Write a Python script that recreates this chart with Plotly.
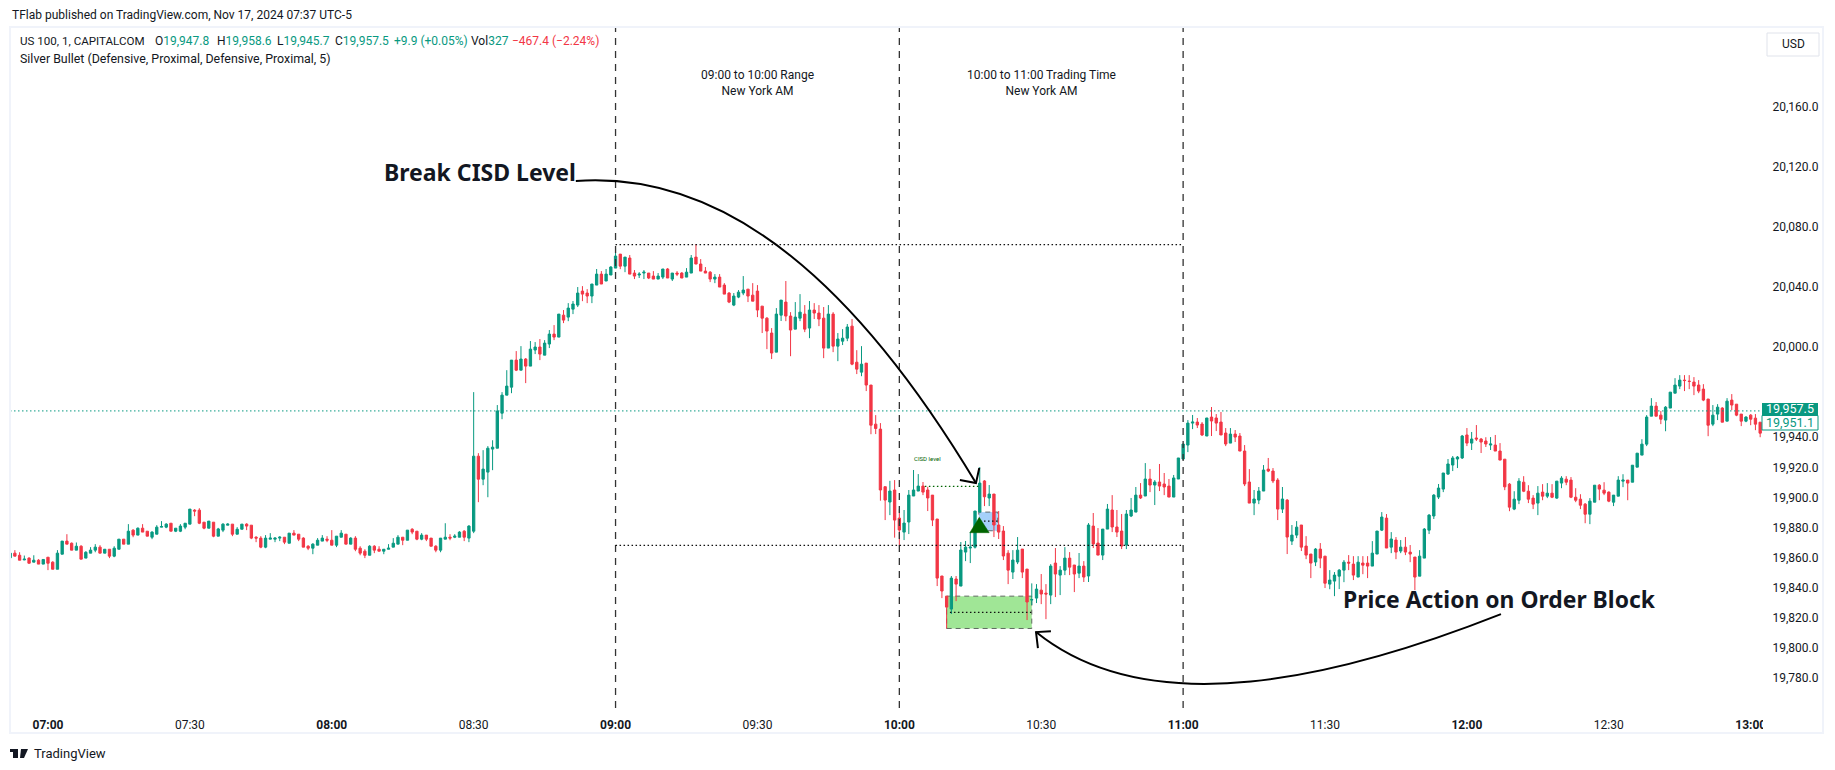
import plotly.graph_objects as go

opens = [19859.8,19862.9,19861.5,19858.4,19859.6,19856.9,19858.2,19855.6,19860.2,19856.9,
19852.2,19862.2,19870.9,19869.5,19864.9,19867.5,19859.6,19862.9,19864.9,19866.9,
19862.9,19865.5,19860.9,19865.5,19872.2,19868.9,19878.2,19874.9,19879.5,19877.5,
19873.5,19875.5,19880.2,19880.2,19882.8,19877.5,19877.5,19880.2,19882.2,19891.5,
19891.5,19883.5,19879.5,19883.5,19874.2,19878.2,19881.5,19882.2,19875.5,19878.8,
19882.2,19881.5,19873.5,19872.9,19866.9,19872.2,19872.2,19872.9,19873.5,19869.5,
19876.2,19875.5,19872.9,19867.5,19866.2,19868.2,19870.9,19872.2,19871.5,19868.2,
19873.5,19875.5,19868.9,19872.9,19866.2,19864.2,19861.5,19867.5,19865.5,19864.2,
19865.5,19866.9,19868.9,19873.5,19871.5,19878.8,19877.5,19872.2,19874.9,19872.9,
19867.5,19864.9,19872.2,19873.5,19873.5,19873.5,19877.5,19872.9,19877.5,19927.4,
19912.1,19916.8,19932.1,19932.7,19956,19968,19973.3,19991.3,19984.6,19992,
19987.3,19998,20000,19994.6,20002,20008.6,20006.6,20021.2,20019.9,20025.2,
20027.9,20037.2,20035.9,20033.9,20041.2,20048.5,20043.9,20047.9,20052.5,20061.8,
20053.8,20059.2,20049.2,20047.9,20049.2,20049.2,20047.2,20045.2,20046.5,20051.9,
20045.2,20049.2,20049.2,20046.5,20049.2,20059.8,20055.2,20050.5,20049.8,20045.2,
20046.5,20041.2,20035.9,20027.9,20033.2,20035.9,20038.5,20034.5,20037.2,20027.2,
20019.2,20009.3,19996.6,20021.2,20029.9,20020.6,20011.9,20019.2,20021.9,20012.6,
20024.6,20022.6,20019.2,19999.3,20021.9,20000.6,20003.9,20005.9,20013.9,19989.9,
19983.3,19989.3,19974.7,19948.7,19945.4,19907.1,19896.9,19904.9,19886.2,19876.9,
19883.6,19900.9,19904.2,19907.5,19904.9,19901.5,19885.6,19847.7,19834.3,19825.7,
19845.7,19841,19863.6,19866.3,19866.9,19890.2,19910.9,19899.6,19902.2,19881.6,
19877.6,19862.9,19850.3,19857,19865.6,19852.3,19831.7,19833,19838.3,19836.3,
19835,19856.3,19848.3,19851.6,19859.6,19855,19849.6,19854.3,19847.7,19880.9,
19869.6,19861.6,19878.9,19891.6,19880.3,19877.6,19868.3,19887.6,19890.2,19901.5,
19900.9,19912.2,19908.2,19910.2,19908.9,19907.5,19900.2,19912.2,19925.5,19934.8,
19949.4,19950.1,19948.8,19940.8,19953.4,19952.8,19950.1,19942.8,19936.1,19942.1,
19940.8,19930.8,19910.2,19896.2,19898.2,19904.2,19918.8,19917.5,19911.5,19892.2,
19898.2,19870.9,19874.9,19881.6,19867.6,19862.3,19857,19865.6,19860.9,19842.3,
19844.3,19847.6,19851.6,19856.9,19855.6,19847,19856.3,19856.3,19854.3,19862.3,
19878.2,19886.2,19866.9,19871.6,19864.3,19866.9,19863.6,19860.3,19847.6,19859.6,
19878.2,19887.6,19900.2,19905.5,19915.5,19921.5,19925.5,19926.2,19941.5,19936.1,
19939.5,19938.8,19937.5,19934.8,19934.8,19930.8,19925.4,19908.8,19892.2,19898.1,
19910.1,19904.1,19899.5,19896.2,19903.5,19900.8,19902.8,19899.5,19909.5,19912.1,
19911.5,19900.1,19898.8,19895.5,19888.8,19896.8,19908.1,19904.8,19903.5,19896.8,
19900.8,19910.8,19911.5,19910.1,19920.1,19928.1,19935.4,19954,19960.7,19954.7,
19951.4,19959.4,19969.3,19974,19978,19977.3,19976.7,19974.7,19972,19965.4,
19948.7,19955.4,19959.4,19950.7,19964.7,19962,19955.4,19950.7,19954.7,19952.7,19950]

highs = [19862.9,19864.9,19863.5,19861.3,19860.2,19861.5,19858.9,19858.7,19860.2,19857.5,
19864.9,19870.9,19875.5,19870,19870,19868.2,19864.2,19866.9,19868.9,19868.2,
19865.5,19865.5,19867.5,19872.2,19872.2,19882.2,19878.8,19880,19882.2,19877.5,
19877.5,19881.5,19884.2,19882.8,19882.8,19879.5,19882.2,19882.8,19892.2,19892.2,
19892.8,19883.5,19884.2,19883.5,19879.7,19882.8,19882.8,19882.2,19880.2,19882.2,
19882.8,19881.5,19874.2,19874.2,19874.9,19876.2,19873.5,19874.2,19873.5,19876.2,
19878.2,19875.5,19873.5,19868.2,19869.5,19872.9,19874.9,19874.2,19878.2,19874.2,
19878.2,19875.5,19873.5,19874.2,19867.5,19865.5,19868.2,19868.2,19867.5,19865.5,
19868.9,19872.9,19874.9,19873.5,19878.2,19879.5,19877.5,19876.2,19874.9,19872.9,
19868.2,19872.9,19882.8,19875.5,19875.5,19877.5,19878.2,19881.5,19970,19929.4,
19931.4,19934.1,19938,19961.4,19970,19984.6,19991.3,19997.3,20000.6,19992.7,
20004,20003.3,20005.3,20004.6,20011.3,20014.6,20021.9,20024.6,20029.2,20030.6,
20039.9,20040.5,20038.5,20041.9,20051.9,20050.5,20051.9,20053.8,20065.8,20061.8,
20059.8,20061.2,20051.2,20049.8,20051.2,20049.2,20050.5,20049.2,20051.9,20052.5,
20049.2,20050.5,20049.8,20052.5,20061.2,20068.5,20058.5,20053.2,20050.5,20048.5,
20048.5,20042.5,20036.5,20035.9,20037.9,20047.2,20038.5,20042.5,20041.2,20027.2,
20019.9,20012.6,20025.9,20031.2,20043.9,20023.2,20029.9,20035.2,20027.9,20030.6,
20029.2,20027.9,20026.6,20027.9,20023.2,20009.3,20011.9,20015.3,20018.6,19997.9,
20000.6,19989.3,19974.7,19954.7,19949.4,19907.1,19911,19911.5,19892.2,19891.6,
19904.9,19918.2,19915.5,19910.2,19907,19901.5,19885.6,19847.7,19834.3,19847.7,
19847.7,19870.3,19871,19876.9,19891,19920.2,19911.5,19908.2,19902.2,19890.9,
19880.9,19864.9,19864.9,19873.6,19865.6,19852.3,19842.8,19842.3,19849,19842.3,
19855.6,19866.3,19854.3,19866.9,19863.6,19855,19863,19857.6,19882.9,19889.6,
19879.6,19878.9,19895.6,19901.5,19891.6,19888.9,19891.6,19899.6,19906.9,19909.5,
19922.8,19918.9,19911.5,19922.2,19916.2,19912.2,19914.9,19926.2,19935.5,19951.4,
19954.8,19952.8,19950.1,19952.8,19960.1,19955.4,19956.8,19946.1,19946.1,19944.8,
19942.8,19934.8,19918.8,19904.9,19906.9,19921.5,19926.2,19919.5,19912.8,19906.9,
19898.9,19881.6,19884.2,19881.6,19874.2,19862.3,19866.3,19869.6,19860.9,19851.6,
19850.3,19852.3,19858.3,19861.6,19860.9,19860.9,19860.9,19860.9,19870.9,19877.6,
19890.2,19888.9,19876.9,19873.6,19871.6,19873.6,19868.3,19860.3,19864.9,19879.6,
19888.9,19902.2,19908.9,19916.2,19925.5,19927.5,19927.5,19941.5,19946.1,19943.5,
19948.1,19939.5,19940,19940.1,19941.5,19936.1,19925.4,19909.5,19904.1,19912.8,
19914.1,19908.1,19901.5,19907.5,19908.8,19909.5,19908.8,19910.8,19914.1,19914.1,
19913.5,19906.1,19902.1,19896.2,19899.5,19908.1,19908.8,19910.1,19904,19901.5,
19914.1,19915.4,19911.5,19921.4,19929.4,19938.7,19954.7,19966,19963.4,19957.4,
19960.7,19970,19979.3,19981.3,19981.3,19981.3,19980,19978,19975.3,19965.4,
19961.4,19962,19960,19966,19968.7,19962,19955.4,19954,19955.4,19955.4,19950]

lows = [19859.8,19860.9,19858.2,19858.2,19856,19856.9,19855.6,19855.6,19851.6,19852.2,
19852.2,19862.2,19868.9,19864.9,19864.9,19858.9,19859.6,19862.9,19863.5,19862.9,
19862.9,19859.6,19860.2,19865.5,19868.9,19868.9,19873.5,19874.9,19876.9,19874.2,
19872.2,19875.5,19880.2,19879.5,19877.5,19876.9,19876.9,19878.8,19882.2,19887.5,
19882.2,19878.8,19879.5,19873.5,19874.2,19876.9,19881.5,19874.2,19875.5,19878.8,
19878.2,19872.2,19870.2,19866.2,19866.2,19872.2,19870.2,19870.9,19868.9,19869.5,
19874.9,19870.9,19866.9,19864.9,19862.2,19868.2,19870.9,19870.2,19868.2,19866.9,
19873.5,19868.9,19868.9,19864.2,19861.5,19859.6,19861.5,19862.9,19864.2,19862.2,
19865.5,19866.9,19868.9,19868.2,19871.5,19875.5,19871.5,19871.5,19870.9,19867.5,
19863.5,19863.5,19872.2,19871.5,19872.9,19873.5,19870.9,19870.2,19876.2,19896.8,
19908.1,19900.1,19918.1,19932.7,19952,19968,19969.3,19984,19984.6,19976,
19987.3,19995.3,19991.3,19994.6,19999.3,20004.6,20006.6,20015.9,20017.2,20021.9,
20026.6,20030.5,20029.2,20029.2,20041.2,20041.9,20043.9,20047.9,20052.5,20051.8,
20049.8,20048.5,20045.2,20045.9,20045.2,20045.2,20045.2,20045.2,20045.2,20045.9,
20043.9,20047.2,20045.9,20046.5,20049.2,20055.2,20050.5,20049.2,20043.2,20042.5,
20039.9,20035.2,20029.2,20027.2,20032.5,20034.5,20029.9,20030.5,20019.9,20009.3,
19998.6,19992,19996.6,20017.3,20017.2,19993.9,20011.9,20017.2,20009.9,20005.9,
20018.6,20013.9,19992.6,19999.3,19996.6,19990.6,20001.3,20003.9,19987.9,19982,
19980.6,19970.7,19942,19942.1,19897.8,19884.9,19888.2,19873.2,19868.3,19871.6,
19875.6,19900.9,19904.2,19901.5,19890.9,19880.9,19841,19833,19812.8,19822.4,
19831,19841,19857.6,19856.3,19866,19890.2,19894.2,19894.2,19873.6,19872.3,
19858.3,19842.3,19845.7,19855.6,19846.3,19818.4,19828.4,19829.7,19829,19819,
19829,19833.7,19835,19848.3,19848.3,19837,19846.3,19843.7,19843.7,19866.3,
19861.6,19858.3,19878.9,19876.9,19873.6,19865.6,19865.6,19886.9,19890.2,19898.9,
19900.9,19903.5,19894.9,19904.2,19901.5,19900.2,19900.2,19912.2,19925,19930.1,
19945.4,19946.1,19940.8,19940.8,19940.8,19944.1,19941.5,19934.1,19936.1,19936.8,
19930.8,19907.5,19896.2,19888.2,19895.5,19904.2,19916.8,19909.5,19884.9,19889.6,
19862.3,19868.3,19872.9,19864.3,19858.9,19846.3,19854.3,19852.9,19839.7,19838.9,
19834.3,19839,19843.6,19851.6,19845,19847,19848.9,19846.3,19854.3,19862.3,
19877.6,19866.3,19862.9,19858.9,19862.9,19861.6,19856.9,19838.3,19847.6,19859.6,
19875.6,19885.6,19898.9,19903.5,19914.9,19917.5,19919.5,19925.5,19934.1,19931.5,
19937.5,19929.5,19933.5,19931.5,19930.8,19924.8,19904.8,19890.8,19891.5,19895.5,
19903.5,19896.2,19892.2,19888.2,19898.1,19899.5,19899.5,19899,19906.1,19908.1,
19899.5,19896.8,19892.2,19882.8,19882.2,19896.8,19898.1,19901.5,19896.8,19894.2,
19900.8,19906.8,19898.1,19910.1,19920.1,19928.1,19934.1,19954,19954,19948.7,
19944,19959.4,19969.3,19972,19970.7,19972,19968,19969.3,19964,19940.7,
19947.4,19951.4,19950,19950.7,19958,19954,19947.4,19950,19948,19944.7,19940]

closes = [19862.9,19860.9,19858.2,19858.9,19856.2,19858.2,19855.6,19858.7,19856.2,19852.2,
19862.9,19870.9,19868.9,19864.9,19867.5,19858.9,19863.5,19864.9,19866.9,19862.9,
19865.5,19860.9,19866.2,19872.2,19868.9,19877.5,19874.9,19879.5,19876.9,19874.2,
19876.9,19880.2,19880.6,19882.2,19877.5,19879.5,19880.9,19882.8,19892.2,19890.9,
19882.8,19879.5,19884.2,19874.2,19879,19882.2,19882.2,19875.5,19878.8,19882.2,
19880.9,19872.9,19872.9,19866.9,19872.9,19872.9,19872.9,19873.5,19870.2,19876.2,
19874.9,19872.2,19866.9,19866.2,19868.9,19871.5,19872.9,19871.5,19868.2,19874.2,
19876.2,19868.9,19872.9,19865.5,19862.9,19861.5,19867.5,19864.9,19864.2,19865.5,
19866.2,19869.5,19873.5,19871.5,19878.2,19876.9,19872.2,19874.9,19872.2,19867.5,
19864.9,19872.9,19873.5,19872.9,19874.2,19876.9,19873.5,19880.9,19927.4,19912.1,
19918.8,19932.7,19933.4,19957.4,19968,19974,19991.3,19984.6,19992,19987.3,
19998.6,20000,19995.3,20002.6,20008.6,20006.6,20021.9,20017.9,20025.9,20028.6,
20035.9,20035.2,20033.9,20041.9,20048.5,20041.9,20048.5,20053.2,20060.5,20053.8,
20059.8,20048.5,20047.2,20048.5,20049.8,20045.9,20045.2,20047.2,20051.9,20045.9,
20049.2,20048.5,20045.9,20049.8,20059.2,20055.2,20050.5,20049.2,20045.2,20046.5,
20039.9,20035.2,20029.9,20033.9,20036.5,20037.9,20033.9,20030.5,20024.6,20019.2,
20010.6,19996,20021.9,20031.2,20020.6,20011.3,20019.9,20023.2,20011.9,20024.6,
20022.6,20018.6,19999.3,20021.9,20000.6,20005.3,20005.9,20013.3,19988.6,19985.3,
19988.6,19974.7,19948,19945.8,19904.9,19898.2,19904.2,19884.9,19878.3,19882.9,
19901.5,19904.9,19907.5,19903.5,19899.6,19884.9,19846.3,19837.7,19827,19846.3,
19842.3,19865,19866.9,19866.9,19890.9,19909.5,19900.4,19902.2,19881.6,19876.9,
19861,19851.6,19858.3,19864.9,19850.3,19830.4,19832,19839,19835.7,19835.7,
19854.3,19849,19851.6,19859.6,19853.6,19849,19854.3,19847,19881.6,19869,
19861.6,19878.9,19892.2,19880.3,19876.9,19867.6,19888.9,19891.6,19901.5,19899.6,
19912.2,19908.2,19910.2,19907.5,19906.9,19900.2,19912.9,19926.2,19935.5,19949.4,
19950.1,19948.1,19941.5,19952.8,19950.8,19949.4,19941.5,19935.5,19942.1,19940.1,
19930.8,19908.9,19896.2,19898.9,19904.2,19918.2,19917.5,19910.9,19892.2,19898.9,
19873.6,19874.9,19880.2,19866.9,19861.6,19856.3,19865.6,19859.6,19842.9,19845,
19848.3,19851.6,19856.9,19856.3,19848.3,19856.9,19854.9,19854.3,19862.9,19877.6,
19886.9,19866.3,19872.3,19863.6,19866.9,19863.6,19862.3,19847,19860.9,19878.9,
19888.2,19901.5,19906.2,19916.2,19922.2,19926.2,19926.8,19940.8,19936.1,19938.8,
19938.8,19936.8,19935.5,19935.5,19930.8,19924.8,19907,19893.5,19898.8,19910.8,
19904.1,19898.8,19895.5,19902.8,19900.8,19902.8,19900.1,19910.8,19912.8,19910.1,
19900.1,19898.1,19894.8,19888.8,19897.5,19908.1,19905.5,19902.8,19897.5,19901.5,
19911.5,19911.5,19909.5,19921.4,19929.4,19935.4,19953.4,19960.7,19954,19952,
19960,19970,19974.7,19978,19977.7,19977.1,19974,19970.7,19964.7,19948,
19954.7,19960,19950,19964,19961.4,19954.7,19950.7,19953.4,19952,19948.7,19942.7]

assert len(opens) == len(highs) == len(lows) == len(closes)

FIRST_MINUTE = 412  # 06:52, minutes after midnight
minutes = [FIRST_MINUTE + i for i in range(len(opens))]

hour_ticks = [420, 450, 480, 510, 540, 570, 600, 630, 660, 690, 720, 750, 780]
hour_labels = ["<b>07:00</b>", "07:30", "<b>08:00</b>", "08:30", "<b>09:00</b>", "09:30", "<b>10:00</b>",
               "10:30", "<b>11:00</b>", "11:30", "<b>12:00</b>", "12:30", "<b>13:00</b>"]
price_ticks = [19780, 19800, 19820, 19840, 19860, 19880, 19900, 19920, 19940,
               20000, 20040, 20080, 20120, 20160]

session_lines = [540, 600, 660]
range_high = 20068.1
range_low = 19868.1
last_price = 19957.5
cisd_level = 19907.3

GREEN = "#089981"
RED = "#F23645"
INK = "#131722"
FONT = "Roboto"
W, H = 1835, 770
ML, MR, MT, MB = 10, 72, 28, 62
xp = lambda px: (px - ML) / (W - ML - MR)
yp = lambda py: (H - MB - py) / (H - MT - MB)

fig = go.Figure(go.Candlestick(
    x=minutes, open=opens, high=highs, low=lows, close=closes,
    increasing=dict(line=dict(color=GREEN, width=1), fillcolor=GREEN),
    decreasing=dict(line=dict(color=RED, width=1), fillcolor=RED),
    hoverinfo="skip", whiskerwidth=0,
))

shapes = []
# order block and FVG boxes
shapes.append(dict(type="rect", x0=610, x1=628, y0=19812.8, y1=19834.3, layer="below",
                   fillcolor="#A0E696", line=dict(color="#5f6b60", width=1, dash="5px,4px")))
shapes.append(dict(type="rect", x0=616.8, x1=620.8, y0=19877.8, y1=19890.2, layer="below",
                   fillcolor="#A5D0FA", line=dict(color="#5f6b70", width=1, dash="5px,4px")))
for v in session_lines:
    shapes.append(dict(type="line", x0=v, x1=v, yref="paper", y0=0, y1=1,
                       line=dict(color="#333333", width=1.3, dash="7px,6px")))
for level in (range_high, range_low):
    shapes.append(dict(type="line", x0=540, x1=660, y0=level, y1=level,
                       line=dict(color="#111111", width=1.2, dash="1.5px,2.5px")))
shapes.append(dict(type="line", xref="paper", x0=0, x1=1, y0=last_price, y1=last_price,
                   line=dict(color=GREEN, width=1, dash="1.5px,2.5px")))
shapes.append(dict(type="line", x0=605.4, x1=616.7, y0=cisd_level, y1=cisd_level,
                   line=dict(color="#006400", width=1.2, dash="1.5px,2.5px")))
shapes.append(dict(type="line", x0=610.7, x1=627.9, y0=19823.5, y1=19823.5,
                   line=dict(color="#111111", width=1.2, dash="1.5px,2.5px")))
shapes.append(dict(type="line", x0=617.9, x1=620.9, y0=19884.2, y1=19884.2,
                   line=dict(color="#111111", width=1.2, dash="1.5px,2.5px")))
# signal triangle
shapes.append(dict(type="path", path="M 614.9 19876.5 L 616.9 19886.7 L 619 19876.5 Z",
                   fillcolor="#006400", line=dict(color="#006400", width=0.5)))
# curved arrows
shapes.append(dict(type="path", path="M 531.6 20110.4 C 564.2 20117.8 591.7 20037.9 616.2 19909.5",
                   line=dict(color="#000000", width=2)))
shapes.append(dict(type="path", path="M 612.8 19911.5 L 616.2 19909.5 L 616.9 19919.5",
                   line=dict(color="#000000", width=2)))
shapes.append(dict(type="path", path="M 727.2 19822.3 C 693.1 19780 653 19749 628.9 19810.4",
                   line=dict(color="#000000", width=2)))
shapes.append(dict(type="path", path="M 632.05 19811 L 628.9 19810.4 L 629.3 19799.7",
                   line=dict(color="#000000", width=2)))
# page furniture in pixel positions
def px_rect(x0, y0, x1, y1, **kw):
    return dict(type="rect", xref="paper", yref="paper", x0=xp(x0), x1=xp(x1), y0=yp(y0), y1=yp(y1), **kw)
shapes.append(px_rect(10, 27, 1823, 733, line=dict(color="#F0F3FA", width=2), fillcolor="rgba(0,0,0,0)"))
shapes.append(px_rect(1763, 710, 1772, 732, line=dict(width=0), fillcolor="#FFFFFF"))
shapes.append(px_rect(1767, 33, 1819, 56, line=dict(color="#E0E3EB", width=1), fillcolor="#FFFFFF"))
shapes.append(px_rect(1762, 403, 1818, 421, line=dict(width=0), fillcolor=GREEN))
shapes.append(px_rect(1762, 415.5, 1818, 430, line=dict(color=GREEN, width=1), fillcolor="#FFFFFF"))
# logo
shapes.append(px_rect(10, 749, 18, 752, line=dict(width=0), fillcolor=INK))
shapes.append(px_rect(13, 749, 18, 758, line=dict(width=0), fillcolor=INK))
shapes.append(dict(type="path", xref="paper", yref="paper",
                   path=f"M {xp(21)} {yp(749)} L {xp(28)} {yp(749)} L {xp(24)} {yp(758)} L {xp(20)} {yp(758)} Z",
                   fillcolor=INK, line=dict(width=0)))

def g(t):
    return f'<span style="color:{GREEN}">{t}</span>'

def note(text, px, py, size=12, color=INK, xanchor="left", family=FONT, align="left"):
    return dict(text=text, xref="paper", yref="paper", x=xp(px), y=yp(py), showarrow=False,
                xanchor=xanchor, yanchor="middle", align=align, xshift=0,
                font=dict(family=family, size=size, color=color))

annotations = [
    note("TFlab published on TradingView.com, Nov 17, 2024 07:37 UTC-5", 10, 15),
    note("US 100, 1, CAPITALCOM", 18, 41, size=11.6),
    note("O" + g("19,947.8"), 153, 41),
    note("H" + g("19,958.6"), 214.7, 41),
    note("L" + g("19,945.7"), 274.8, 41),
    note("C" + g("19,957.5"), 333, 41),
    note(g("+9.9 (+0.05%)"), 391.5, 41),
    note("Vol" + g("327"), 468.6, 41),
    note("−467.4 (−2.24%)", 510, 41, color=RED),
    note("Silver Bullet (Defensive, Proximal, Defensive, Proximal, 5)", 18, 59, size=12.4),
    note("TradingView", 32, 753, size=13),
    note("USD", 1793, 44, xanchor="center"),
    note("19,957.5", 1790, 408.5, color="#FFFFFF", xanchor="center", size=12.5),
    note("19,951.1", 1790, 423, color=GREEN, xanchor="center", size=12.5),
    dict(text="09:00 to 10:00 Range<br>New York AM", x=570, y=20175.6, showarrow=False,
         font=dict(family=FONT, size=12, color=INK), align="center"),
    dict(text="10:00 to 11:00 Trading Time<br>New York AM", x=630, y=20175.6, showarrow=False,
         font=dict(family=FONT, size=12, color=INK), align="center"),
    dict(text="CISD level", x=606, y=19925.7, showarrow=False,
         font=dict(family=FONT, size=6, color="#006400")),
    dict(text="<b>Break CISD Level</b>", x=532, y=20116.5, xanchor="right", showarrow=False,
         font=dict(family="Noto Sans", size=23, color=INK)),
    dict(text="<b>Price Action on Order Block</b>", x=693.4, y=19832, xanchor="left", showarrow=False,
         font=dict(family="Noto Sans", size=22.9, color=INK)),
]

fig.update_layout(
    width=W, height=H, autosize=False,
    margin=dict(l=ML, r=MR, t=MT, b=MB),
    paper_bgcolor="#FFFFFF", plot_bgcolor="#FFFFFF",
    showlegend=False, shapes=shapes, annotations=annotations,
    font=dict(family=FONT, size=12, color=INK),
    xaxis=dict(range=[411.97, 782.6], tickvals=hour_ticks, ticktext=hour_labels,
               showgrid=False, zeroline=False, showline=False, ticks="outside", ticklen=6,
               tickcolor="rgba(0,0,0,0)", rangeslider=dict(visible=False),
               tickfont=dict(family=FONT, size=12, color=INK)),
    yaxis=dict(range=[19759.9, 20212.2], side="right", tickvals=price_ticks, tickformat=",.1f",
               showgrid=False, zeroline=False, showline=False, ticks="outside", ticklen=6,
               tickcolor="rgba(0,0,0,0)", tickfont=dict(family=FONT, size=12, color=INK)),
)

fig.write_html("out.html", config=dict(displayModeBar=False),
               post_script="document.body.style.margin='0';document.body.style.overflow='hidden';")
